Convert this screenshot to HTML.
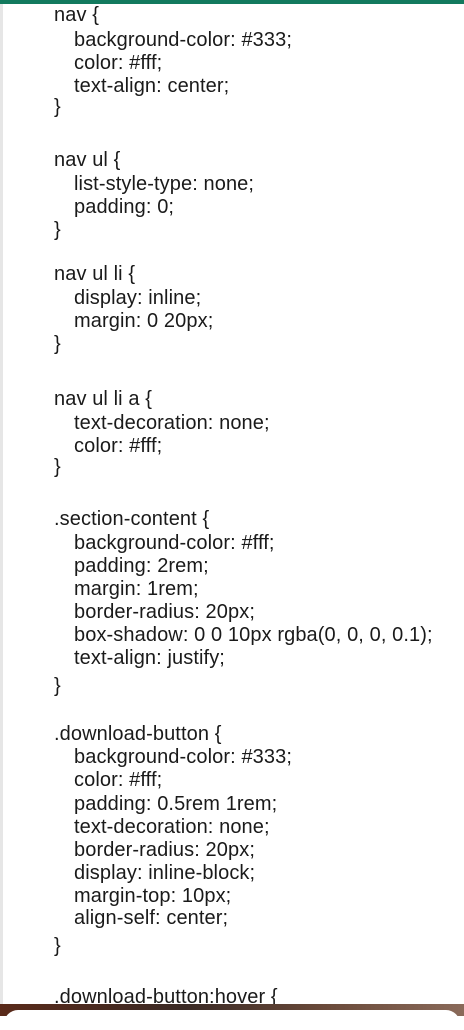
<!DOCTYPE html>
<html><head><meta charset="utf-8"><style>
html,body{margin:0;padding:0;}
body{width:464px;height:1016px;position:relative;overflow:hidden;background:#fff;font-family:"Liberation Sans",sans-serif;}
.top{position:absolute;left:0;top:0;width:464px;height:4px;background:#127a5e;}
.edge{position:absolute;left:0;top:4px;width:3px;height:1000px;background:#e6e6e6;}
.l{position:absolute;font-size:20px;line-height:22px;color:#1a1a1a;white-space:pre;letter-spacing:0.1px;}
.a{left:54px}.b{left:74px}
.bot{position:absolute;left:0;top:1004px;width:464px;height:12px;background:linear-gradient(90deg,#5a2a1a,#3a2a25 40%,#6a4a3a 70%,#8a6a5a);}
.sheet{position:absolute;left:4px;top:1010px;width:456px;height:20px;background:#fff;border-radius:14px 14px 0 0;}
</style></head><body>
<div class="top"></div><div class="edge"></div>
<div class="l a" style="top:4px">nav {</div>
<div class="l b" style="top:29px">background-color: #333;</div>
<div class="l b" style="top:52px">color: #fff;</div>
<div class="l b" style="top:75px">text-align: center;</div>
<div class="l a" style="top:96px">}</div>
<div class="l a" style="top:149px">nav ul {</div>
<div class="l b" style="top:173px">list-style-type: none;</div>
<div class="l b" style="top:196px">padding: 0;</div>
<div class="l a" style="top:219px">}</div>
<div class="l a" style="top:263px">nav ul li {</div>
<div class="l b" style="top:287px">display: inline;</div>
<div class="l b" style="top:310px">margin: 0 20px;</div>
<div class="l a" style="top:333px">}</div>
<div class="l a" style="top:388px">nav ul li a {</div>
<div class="l b" style="top:412px">text-decoration: none;</div>
<div class="l b" style="top:435px">color: #fff;</div>
<div class="l a" style="top:456px">}</div>
<div class="l a" style="top:508px">.section-content {</div>
<div class="l b" style="top:532px">background-color: #fff;</div>
<div class="l b" style="top:555px">padding: 2rem;</div>
<div class="l b" style="top:578px">margin: 1rem;</div>
<div class="l b" style="top:601px">border-radius: 20px;</div>
<div class="l b" style="top:624px">box-shadow: 0 0 10px rgba(0, 0, 0, 0.1);</div>
<div class="l b" style="top:647px">text-align: justify;</div>
<div class="l a" style="top:675px">}</div>
<div class="l a" style="top:723px">.download-button {</div>
<div class="l b" style="top:746px">background-color: #333;</div>
<div class="l b" style="top:769px">color: #fff;</div>
<div class="l b" style="top:793px">padding: 0.5rem 1rem;</div>
<div class="l b" style="top:816px">text-decoration: none;</div>
<div class="l b" style="top:839px">border-radius: 20px;</div>
<div class="l b" style="top:862px">display: inline-block;</div>
<div class="l b" style="top:885px">margin-top: 10px;</div>
<div class="l b" style="top:907px">align-self: center;</div>
<div class="l a" style="top:935px">}</div>
<div class="l a" style="top:986px">.download-button:hover {</div>
<div class="bot"></div><div class="sheet"></div>
</body></html>
